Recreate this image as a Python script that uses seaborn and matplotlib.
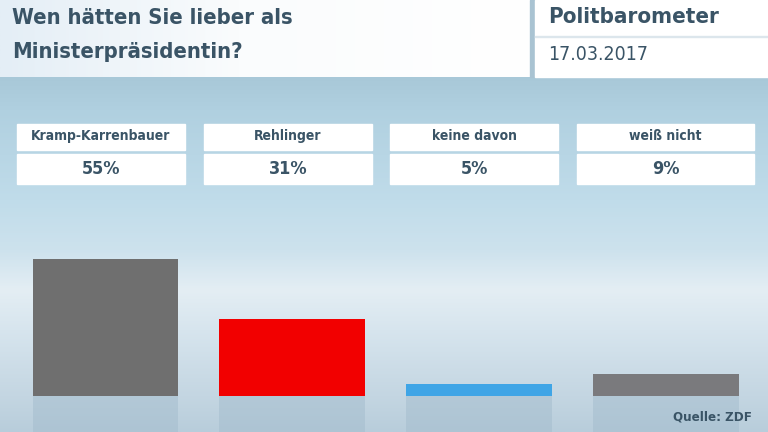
import numpy as np
import pandas as pd
import matplotlib
matplotlib.use("Agg")
import matplotlib.pyplot as plt
from matplotlib.patches import Rectangle
import seaborn as sns

# ---- data ----
categories = ["Kramp-Karrenbauer", "Rehlinger", "keine davon", "weiß nicht"]
values = [55, 31, 5, 9]
value_labels = ["55%", "31%", "5%", "9%"]
bar_colors = ["#6f6f6f", "#f20000", "#3fa5e6", "#7a7a7d"]
title_text = "Wen hätten Sie lieber als\nMinisterpräsidentin?"
brand_text = "Politbarometer"
date_text = "17.03.2017"
source_text = "Quelle: ZDF"

sns.set_theme(style="white")
plt.rcParams['font.family'] = ['DejaVu Sans']
TXT = "#3a5466"
W, H = 768, 432
fig = plt.figure(figsize=(W / 100, H / 100), dpi=100)

def fx(px):
    return px / W

def fy(py):
    return 1 - py / H

# background gradient
bg = fig.add_axes([0, 0, 1, 1])
bg.set_axis_off()
stops_y = np.array([0, 77, 110, 200, 250, 290, 330, 396, 432]) / H
cols = np.array([
    [168, 200, 216], [168, 200, 216], [176, 208, 224], [192, 220, 234],
    [205, 226, 237], [228, 238, 244], [215, 229, 238], [196, 214, 226], [184, 205, 219]]) / 255
yy = np.linspace(0, 1, 432)
grad = np.stack([np.interp(yy, stops_y, cols[:, k]) for k in range(3)], axis=-1)
img = np.repeat(grad[:, None, :], 4, axis=1)
bg.imshow(img, aspect="auto", extent=[0, 1, 1, 0], interpolation="bilinear")
bg.set_xlim(0, 1)
bg.set_ylim(1, 0)

# header panels
hdr = np.linspace(0, 1, 200)
hcol = np.stack([np.interp(hdr, [0, 0.45, 1], [c1, c2, 1.0]) for c1, c2 in
                 zip([228/255, 238/255, 246/255], [250/255, 252/255, 253/255])], axis=-1)
hax = fig.add_axes([0, fy(77), fx(530), 77 / H])
hax.set_axis_off()
hax.imshow(np.repeat(hcol[None, :, :], 4, axis=0), aspect="auto", extent=[0, 1, 0, 1])
fig.patches.append(Rectangle((fx(530), fy(77)), fx(5), 77 / H, transform=fig.transFigure,
                             color="#a9c3d2", zorder=1))
fig.patches.append(Rectangle((fx(535), fy(77)), fx(233), 77 / H, transform=fig.transFigure,
                             color="white", zorder=1))
fig.patches.append(Rectangle((fx(535), fy(37)), fx(233), 1.2 / H, transform=fig.transFigure,
                             color="#dce6ec", zorder=2))

fig.text(fx(12), fy(18), title_text.split("\n")[0], fontsize=15.8, fontweight="bold",
         fontstretch="condensed", color=TXT, va="center", ha="left")
fig.text(fx(12), fy(52), title_text.split("\n")[1], fontsize=15.8, fontweight="bold",
         fontstretch="condensed", color=TXT, va="center", ha="left")
fig.text(fx(548), fy(17), brand_text, fontsize=16, fontweight="bold",
         fontstretch="condensed", color=TXT, va="center", ha="left")
fig.text(fx(548), fy(55), date_text, fontsize=14, fontstretch="condensed",
         color=TXT, va="center", ha="left")

# boxes
box_x = [(17, 185), (204, 372), (390, 558), (577, 754)]
for (x0, x1), cat, lab in zip(box_x, categories, value_labels):
    fig.patches.append(Rectangle((fx(x0), fy(150)), fx(x1 - x0), 26 / H,
                                 transform=fig.transFigure, color="white", zorder=2))
    fig.patches.append(Rectangle((fx(x0), fy(184)), fx(x1 - x0), 30 / H,
                                 transform=fig.transFigure, color="white", zorder=2))
    fig.text(fx((x0 + x1) / 2), fy(136), cat, fontsize=10, fontweight="bold",
             fontstretch="condensed", color=TXT, ha="center", va="center", zorder=3)
    fig.text(fx((x0 + x1) / 2), fy(169), lab, fontsize=13, fontweight="semibold",
             fontstretch="condensed", color=TXT, ha="center", va="center", zorder=3)

# bars
ax = fig.add_axes([fx(12), 0, fx(747.5), fy(246.6)])
ax.patch.set_alpha(0)
df = pd.DataFrame({"cat": categories, "val": values})
sns.barplot(data=df, x="cat", y="val", hue="cat", palette=bar_colors, width=0.78,
            ax=ax, legend=False, saturation=1, linewidth=0, edgecolor="none")
# reflections
for i, c in enumerate(categories):
    ax.bar(i, -14.5, width=0.78, color="#a3bccd", alpha=0.5, linewidth=0)
ax.set_xlim(-0.5, 3.5)
ax.set_ylim(-14.46, 60)
ax.set_axis_off()

fig.text(fx(752), fy(417), source_text, fontsize=9.5, fontweight="bold",
         fontstretch="condensed", color=TXT, ha="right", va="center")

fig.savefig("out.png", dpi=100)
